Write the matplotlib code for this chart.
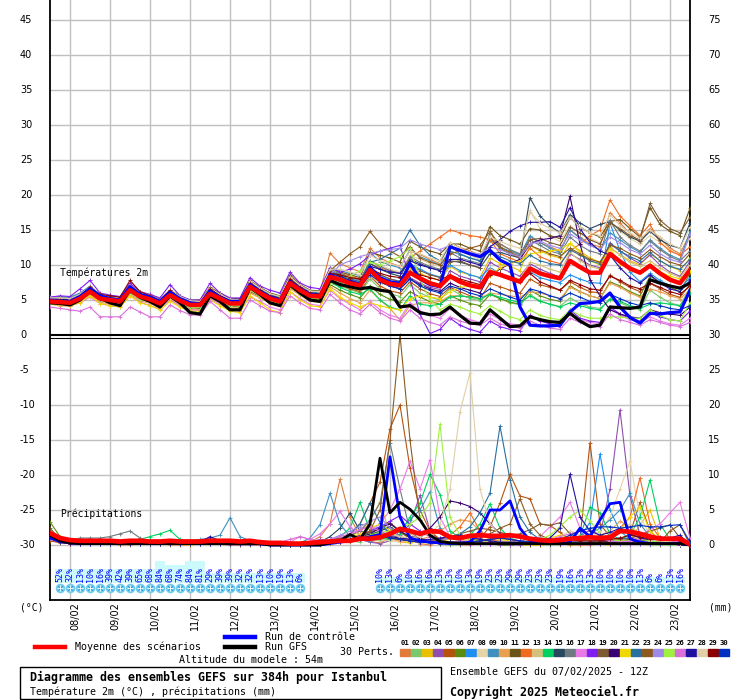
import numpy as np
import matplotlib.pyplot as plt
from matplotlib.lines import Line2D
from matplotlib.patches import Rectangle

# échéances toutes les 6h depuis le 07/02/2025 12Z
hours = np.arange(0, 385, 6)
day_labels = ['08/02', '09/02', '10/02', '11/02', '12/02', '13/02', '14/02', '15/02',
              '16/02', '17/02', '18/02', '19/02', '20/02', '21/02', '22/02', '23/02']
day_hours = np.arange(12, 384, 24)
left_ticks = [45, 40, 35, 30, 25, 20, 15, 10, 5, 0, -5, -10, -15, -20, -25, -30]
right_ticks = [75, 70, 65, 60, 55, 50, 45, 40, 35, 30, 25, 20, 15, 10, 5, 0]

pert_colors = ['#e07b39', '#7dc76d', '#e8c000', '#8e4fb0', '#b5520e', '#5b8c0f', '#1e8ff0',
               '#e6d3a8', '#3f8fbf', '#e8a050', '#6b5418', '#f06a20', '#d4c07a', '#00d060',
               '#284860', '#6e7a80', '#e87ae8', '#7f20f0', '#7d5a30', '#380070', '#f0d800',
               '#2870a0', '#8c5a1e', '#9f8ae8', '#a0f040', '#d870d8', '#2010a0', '#e0cfa8',
               '#8b0000', '#0030c0']

# --- températures 2m ---
mean_t = [4.8, 4.7, 4.6, 5.2, 6.2, 5.2, 5.0, 4.8, 6.4, 5.5, 5.1, 4.5, 5.7, 4.9, 4.3, 4.3, 5.9,
          5.2, 4.5, 4.5, 6.9, 6.0, 5.2, 4.8, 7.4, 6.4, 5.6, 5.5, 8.3, 7.9, 7.4, 7.1, 9.3,
          7.9, 7.3, 7.1, 8.9, 8.1, 7.4, 7.0, 8.4, 7.6, 7.1, 6.8, 9.0, 8.6, 8.1, 7.6, 9.5,
          8.8, 8.4, 8.1, 10.6, 9.7, 8.9, 8.9, 11.6, 10.5, 9.5, 8.9, 9.9, 8.8, 7.9, 7.4, 9.3]
gfs_t = [4.6, 4.5, 4.3, 5.0, 6.3, 5.3, 4.6, 4.2, 6.5, 5.4, 4.8, 4.0, 5.6, 4.6, 3.2, 3.0, 5.6,
         4.8, 3.6, 3.6, 6.8, 5.8, 4.6, 4.2, 7.2, 6.0, 5.0, 4.8, 7.8, 7.2, 6.9, 6.6, 6.8,
         6.4, 6.2, 4.0, 4.2, 3.2, 2.9, 3.0, 4.0, 2.8, 1.7, 1.6, 3.6, 2.4, 1.2, 1.3, 2.6,
         2.2, 1.9, 1.8, 3.1, 2.0, 1.2, 1.4, 4.0, 3.9, 3.8, 4.0, 7.9, 7.4, 7.0, 6.7, 7.4]
ctrl_t = [5.0, 4.8, 4.8, 5.5, 6.6, 5.6, 5.2, 5.0, 6.9, 5.8, 5.4, 4.8, 6.1, 5.2, 4.6, 4.4, 6.3,
          5.4, 4.8, 4.8, 7.2, 6.2, 5.4, 5.0, 7.6, 6.6, 5.8, 5.6, 8.6, 7.8, 7.6, 7.2, 9.6,
          8.2, 7.6, 7.4, 10.2, 8.0, 7.2, 6.9, 12.6, 12.1, 11.6, 11.2, 12.1, 10.7, 10.0, 4.0, 1.4,
          1.3, 1.3, 1.4, 3.3, 4.5, 4.6, 4.8, 6.0, 4.0, 2.5, 1.7, 3.1, 3.0, 3.2, 3.3, 6.4]

t_p01 = [5.0, 5.0, 4.9, 5.6, 6.8, 5.6, 5.3, 5.1, 6.9, 5.9, 5.4, 4.9, 6.1, 5.3, 4.7, 4.6, 6.4,
         5.7, 5.0, 4.9, 7.6, 6.8, 5.8, 5.3, 8.2, 7.2, 6.3, 6.1, 11.7, 10.2, 9.6, 9.0, 12.4,
         11.0, 10.3, 9.8, 12.0, 11.5, 10.8, 10.2, 13.2, 12.5, 12.0, 11.4, 13.8, 13.0, 12.2, 11.5, 14.0,
         13.2, 12.6, 12.0, 15.0, 14.0, 13.0, 12.6, 17.5, 16.0, 14.5, 13.2, 15.2, 13.8, 12.4, 11.6, 14.5]
t_p02 = [5.2, 5.3, 5.4, 5.9, 6.5, 5.5, 5.2, 4.9, 6.2, 5.4, 5.0, 4.4, 5.8, 4.8, 4.2, 4.0, 5.6,
         4.9, 4.1, 4.0, 6.4, 5.6, 4.8, 4.3, 7.0, 6.0, 5.1, 5.0, 7.4, 7.0, 6.5, 6.0, 8.0,
         6.6, 5.9, 5.5, 7.2, 6.0, 5.4, 5.0, 6.6, 5.8, 5.2, 4.9, 6.0, 5.2, 4.6, 4.3, 5.8,
         4.9, 4.4, 4.1, 5.3, 4.5, 4.0, 3.8, 5.0, 4.6, 4.0, 3.6, 6.4, 5.4, 4.6, 4.2, 6.8]
t_p03 = [4.6, 4.5, 4.4, 5.0, 5.9, 5.0, 4.7, 4.5, 6.1, 5.2, 4.8, 4.2, 5.4, 4.6, 4.0, 3.9, 5.6,
         4.9, 4.2, 4.1, 6.5, 5.7, 4.9, 4.4, 7.1, 6.1, 5.3, 5.2, 8.0, 7.4, 6.8, 6.4, 9.6,
         8.2, 7.6, 7.2, 9.4, 8.8, 8.2, 7.8, 9.8, 9.0, 8.6, 8.2, 11.0, 10.2, 9.8, 9.2, 12.8,
         12.0, 11.4, 11.0, 13.1, 12.0, 11.0, 10.4, 12.4, 11.5, 10.6, 10.0, 11.6, 10.6, 9.8, 9.2, 11.0]
t_p04 = [4.7, 4.6, 4.5, 5.3, 6.4, 5.4, 5.2, 4.9, 6.6, 5.7, 5.2, 4.6, 5.9, 5.0, 4.4, 4.4, 6.1,
         5.3, 4.6, 4.6, 7.0, 6.1, 5.3, 4.9, 7.6, 6.5, 5.7, 5.6, 8.6, 8.2, 7.6, 7.2, 9.0,
         8.0, 7.3, 7.0, 8.2, 7.4, 6.8, 6.5, 9.2, 8.4, 8.0, 7.6, 10.4, 9.6, 9.0, 8.4, 10.2,
         9.4, 8.8, 8.3, 11.6, 10.8, 10.0, 9.6, 13.2, 12.0, 11.0, 10.2, 11.4, 10.0, 9.0, 8.4, 10.5]
t_p05 = [4.9, 4.8, 4.7, 5.2, 6.0, 5.1, 4.8, 4.6, 6.2, 5.3, 4.9, 4.3, 5.5, 4.7, 4.1, 4.0, 5.6,
         5.0, 4.3, 4.2, 6.6, 5.8, 5.0, 4.6, 7.0, 6.1, 5.2, 5.1, 7.8, 7.2, 6.6, 6.2, 8.4,
         7.0, 6.3, 6.0, 7.6, 6.6, 5.9, 5.5, 6.8, 6.2, 5.6, 5.2, 7.4, 6.9, 6.4, 6.0, 8.0,
         7.2, 6.8, 6.4, 7.6, 6.8, 6.2, 6.0, 8.6, 7.6, 6.8, 6.2, 7.4, 6.6, 5.8, 5.4, 7.2]
t_p06 = [4.5, 4.4, 4.3, 4.8, 5.8, 4.9, 4.6, 4.4, 6.0, 5.1, 4.7, 4.1, 5.3, 4.5, 3.9, 3.8, 5.4,
         4.8, 4.1, 4.0, 6.2, 5.5, 4.7, 4.3, 6.8, 5.9, 5.0, 4.9, 7.2, 6.4, 5.8, 5.3, 7.0,
         5.8, 5.1, 4.7, 6.2, 5.4, 4.8, 4.4, 5.6, 5.0, 4.5, 4.2, 5.8, 5.2, 4.7, 4.4, 6.4,
         5.6, 5.1, 4.8, 7.0, 6.2, 5.6, 5.2, 7.6, 7.0, 6.2, 5.6, 8.4, 7.6, 6.8, 6.2, 8.8]
t_p07 = [5.1, 5.0, 4.9, 5.5, 6.5, 5.5, 5.2, 5.0, 6.7, 5.8, 5.3, 4.7, 6.0, 5.1, 4.5, 4.5, 6.2,
         5.5, 4.7, 4.7, 7.2, 6.3, 5.5, 5.0, 7.8, 6.8, 5.9, 5.8, 8.8, 8.4, 7.8, 7.4, 9.8,
         8.6, 8.0, 7.7, 10.2, 9.4, 8.7, 8.3, 10.0, 9.2, 8.6, 8.2, 9.6, 8.8, 8.2, 7.8, 9.0,
         8.2, 7.8, 7.5, 8.6, 8.0, 7.5, 7.4, 16.0, 12.0, 9.0, 7.6, 8.8, 7.8, 7.0, 6.6, 8.2]
t_p08 = [5.0, 5.1, 5.0, 5.6, 6.6, 5.6, 5.4, 5.2, 6.8, 5.9, 5.5, 4.9, 6.2, 5.3, 4.7, 4.7, 6.5,
         5.7, 5.0, 5.0, 7.6, 6.6, 5.8, 5.4, 8.4, 7.0, 6.2, 6.1, 9.2, 9.0, 8.4, 8.0, 10.6,
         10.0, 9.4, 9.0, 11.4, 10.8, 10.2, 9.8, 12.6, 12.0, 11.4, 10.8, 13.4, 12.8, 12.2, 11.6, 17.8,
         15.2, 14.0, 13.4, 15.6, 14.6, 13.8, 13.2, 15.8, 14.8, 13.8, 13.0, 14.2, 13.2, 12.2, 11.4, 13.8]
t_p09 = [5.4, 5.5, 5.4, 6.0, 7.0, 5.8, 5.5, 5.2, 6.9, 6.0, 5.6, 5.0, 6.3, 5.4, 4.8, 4.8, 6.6,
         5.8, 5.1, 5.1, 7.5, 6.6, 5.8, 5.4, 8.0, 7.0, 6.2, 6.0, 9.6, 9.2, 8.8, 8.5, 11.8,
         10.5, 10.0, 9.6, 12.2, 11.2, 10.6, 10.0, 12.0, 11.5, 11.0, 10.6, 13.6, 12.5, 12.0, 11.4, 14.2,
         13.2, 12.4, 11.8, 15.0, 13.8, 12.8, 12.2, 14.6, 13.6, 12.6, 11.8, 13.6, 12.4, 11.4, 10.8, 14.8]
t_p10 = [4.4, 4.2, 4.1, 4.7, 5.7, 4.7, 4.4, 4.2, 5.8, 4.9, 4.5, 3.9, 5.1, 4.3, 3.7, 3.6, 5.2,
         4.6, 3.9, 3.8, 6.0, 5.3, 4.5, 4.1, 6.6, 5.7, 4.8, 4.7, 6.9, 6.0, 5.2, 4.6, 6.4,
         5.0, 3.8, 2.1, 4.2, 4.6, 4.6, 4.8, 5.6, 5.6, 5.4, 5.2, 6.0, 5.8, 5.6, 5.4, 6.2,
         6.0, 5.6, 5.2, 6.8, 6.2, 5.6, 5.2, 7.4, 6.8, 6.0, 5.4, 6.6, 6.2, 5.6, 5.2, 6.4]
t_p11 = [5.2, 5.2, 5.1, 5.7, 6.8, 5.8, 5.6, 5.4, 7.0, 6.1, 5.7, 5.1, 6.4, 5.6, 5.0, 5.0, 6.8,
         6.0, 5.2, 5.2, 7.8, 6.8, 6.0, 5.6, 8.6, 7.2, 6.4, 6.3, 9.4, 9.0, 8.6, 8.2, 11.8,
         11.4, 11.0, 10.4, 13.4, 12.6, 12.0, 11.6, 13.0, 13.0, 12.4, 12.0, 15.5, 14.2, 13.6, 13.0, 15.2,
         15.0, 14.2, 13.8, 16.8, 15.4, 14.6, 14.0, 16.2, 16.5, 15.2, 14.0, 18.2, 15.8, 14.8, 14.2, 18.1]
t_p12 = [4.9, 4.9, 4.8, 5.4, 6.4, 5.4, 5.1, 4.9, 6.6, 5.7, 5.2, 4.6, 5.9, 5.1, 4.5, 4.4, 6.1,
         5.4, 4.7, 4.6, 7.1, 6.2, 5.4, 5.0, 7.7, 6.6, 5.8, 5.6, 8.8, 8.8, 8.4, 8.0, 10.2,
         9.6, 9.2, 8.8, 11.0, 12.0, 13.0, 14.0, 15.0, 14.6, 14.2, 14.0, 13.6, 11.6, 11.0, 10.4, 12.4,
         11.2, 10.6, 10.2, 12.0, 13.0, 14.2, 15.0, 19.3, 17.0, 15.6, 14.2, 15.8, 13.2, 12.0, 11.4, 12.6]
t_p13 = [4.6, 4.5, 4.4, 5.0, 5.9, 4.9, 4.7, 4.5, 6.0, 5.2, 4.8, 4.2, 5.4, 4.6, 4.0, 4.0, 5.6,
         4.9, 4.2, 4.2, 6.4, 5.6, 4.9, 4.5, 7.0, 6.0, 5.3, 5.2, 8.2, 7.4, 7.0, 6.6, 8.4,
         7.4, 7.0, 6.7, 8.8, 8.0, 7.4, 7.0, 8.2, 7.6, 7.2, 6.8, 9.4, 8.8, 8.4, 8.0, 10.4,
         10.0, 9.4, 9.0, 11.8, 10.6, 9.8, 9.4, 12.6, 11.4, 10.4, 9.8, 10.6, 9.6, 8.8, 8.2, 10.0]
t_p14 = [4.8, 4.9, 5.1, 5.8, 6.6, 5.3, 5.0, 4.8, 6.3, 5.4, 5.0, 4.4, 5.6, 4.8, 4.2, 4.2, 5.8,
         5.1, 4.4, 4.4, 6.8, 5.9, 5.1, 4.7, 7.3, 6.2, 5.4, 5.3, 7.6, 6.8, 6.2, 5.8, 6.6,
         5.0, 4.0, 3.6, 5.6, 4.4, 4.2, 4.4, 5.4, 5.6, 5.4, 5.2, 5.8, 5.4, 5.0, 4.6, 5.6,
         4.8, 4.4, 4.0, 4.6, 4.2, 3.8, 3.6, 5.2, 4.8, 4.2, 3.8, 4.4, 4.6, 4.4, 4.2, 6.0]
t_p15 = [5.0, 5.0, 4.9, 5.5, 6.5, 5.5, 5.2, 5.0, 6.7, 5.8, 5.3, 4.7, 6.0, 5.1, 4.5, 4.5, 6.2,
         5.5, 4.8, 4.7, 7.3, 6.3, 5.5, 5.1, 7.9, 6.8, 6.0, 5.8, 9.0, 8.6, 8.0, 7.6, 10.2,
         9.4, 8.8, 8.4, 10.8, 10.2, 9.6, 9.2, 10.6, 10.4, 10.0, 9.6, 11.6, 11.8, 11.4, 11.0, 19.6,
         17.0, 15.6, 14.6, 17.2, 16.0, 15.2, 15.8, 16.2, 15.0, 14.0, 13.4, 14.8, 13.6, 12.8, 12.4, 16.0]
t_p16 = [5.3, 5.3, 5.2, 5.8, 6.9, 5.7, 5.5, 5.3, 7.1, 6.0, 5.6, 5.0, 6.3, 5.4, 4.8, 4.8, 6.6,
         5.7, 5.0, 5.0, 7.4, 6.5, 5.7, 5.3, 8.1, 6.9, 6.0, 5.9, 9.2, 8.8, 8.2, 7.8, 10.6,
         9.8, 9.2, 8.8, 11.2, 10.4, 9.8, 9.4, 11.8, 11.0, 10.6, 10.2, 14.6, 13.0, 12.2, 11.6, 13.6,
         12.8, 12.0, 11.6, 14.0, 12.8, 12.0, 11.6, 16.4, 14.0, 12.8, 12.0, 13.4, 12.2, 11.2, 10.6, 12.0]
t_p17 = [4.6, 4.4, 4.2, 4.6, 5.4, 4.5, 4.2, 4.0, 5.6, 4.7, 4.2, 3.7, 5.0, 4.2, 3.6, 3.5, 5.2,
         4.4, 3.6, 3.4, 5.4, 4.8, 4.0, 3.6, 6.2, 5.2, 4.4, 4.2, 6.4, 5.2, 4.4, 3.6, 4.8,
         3.6, 2.8, 2.4, 4.6, 3.4, 2.8, 2.4, 3.8, 2.8, 2.2, 1.8, 3.0, 2.2, 1.6, 1.4, 2.8,
         2.0, 1.6, 1.4, 3.2, 2.2, 1.8, 1.6, 3.8, 2.8, 2.2, 1.8, 2.6, 2.0, 1.6, 1.4, 2.4]
t_p18 = [5.4, 5.6, 5.5, 6.6, 7.8, 6.0, 5.7, 5.5, 7.4, 6.2, 5.8, 5.3, 7.2, 5.6, 5.0, 5.0, 7.4,
         6.0, 5.3, 5.3, 8.2, 7.0, 6.4, 6.0, 9.0, 7.4, 6.8, 6.6, 9.6, 9.0, 9.4, 10.2, 11.4,
         12.0, 12.4, 12.8, 8.0, 3.0, 0.2, 0.8, 2.4, 1.4, 0.8, 0.4, 2.0, 1.2, 0.8, 0.6, 2.8,
         2.0, 1.6, 1.2, 3.6, 2.4, 2.0, 1.8, 4.0, 3.0, 2.4, 2.0, 3.2, 2.6, 2.2, 2.0, 3.4]
t_p19 = [4.8, 4.7, 4.6, 5.3, 6.3, 5.3, 5.0, 4.8, 6.5, 5.6, 5.1, 4.5, 5.8, 5.0, 4.4, 4.3, 6.0,
         5.3, 4.6, 4.5, 7.0, 6.1, 5.3, 4.9, 7.5, 6.5, 5.7, 5.6, 8.6, 8.2, 7.6, 7.2, 9.6,
         8.6, 8.0, 7.6, 10.0, 9.2, 8.6, 8.2, 10.4, 10.6, 10.0, 9.6, 14.0, 12.4, 11.6, 11.0, 13.6,
         13.8, 13.2, 12.8, 15.4, 14.6, 13.6, 13.0, 16.0, 15.2, 14.2, 13.6, 18.8, 16.4, 15.2, 14.6, 16.8]
t_p20 = [4.9, 4.8, 4.7, 5.4, 6.4, 5.4, 5.1, 4.9, 6.6, 5.6, 5.1, 4.5, 5.8, 5.0, 4.4, 4.4, 6.1,
         5.4, 4.6, 4.6, 7.2, 6.2, 5.4, 5.0, 7.6, 6.6, 5.8, 5.6, 8.4, 8.0, 7.4, 7.0, 9.0,
         7.6, 7.0, 6.6, 8.0, 7.2, 6.6, 6.2, 7.4, 6.8, 6.4, 6.0, 8.6, 9.4, 10.2, 10.8, 13.0,
         13.6, 13.8, 14.2, 19.8, 13.0, 7.9, 5.6, 3.6, 3.0, 2.6, 2.4, 3.6, 3.2, 3.0, 2.8, 4.0]
t_p21 = [4.4, 4.3, 4.2, 4.6, 5.6, 4.5, 4.2, 4.0, 5.6, 4.6, 4.2, 3.6, 4.8, 4.0, 3.4, 3.4, 5.0,
         4.2, 3.4, 3.2, 5.6, 4.6, 3.6, 3.2, 6.2, 5.0, 4.2, 4.0, 6.6, 5.4, 4.6, 4.0, 4.6,
         4.2, 3.8, 3.6, 5.2, 5.6, 5.4, 5.2, 6.2, 6.8, 7.0, 7.2, 8.4, 9.6, 10.2, 10.6, 11.6,
         11.8, 12.0, 12.2, 13.1, 11.8, 10.6, 10.0, 12.4, 10.2, 9.4, 9.0, 10.2, 9.0, 8.4, 8.0, 9.2]
t_p22 = [5.2, 5.2, 5.1, 5.7, 6.7, 5.7, 5.4, 5.2, 6.9, 6.0, 5.5, 4.9, 6.2, 5.3, 4.7, 4.7, 6.4,
         5.7, 5.0, 4.9, 7.4, 6.5, 5.7, 5.3, 8.0, 6.9, 6.1, 5.9, 9.0, 8.6, 8.0, 7.6, 10.4,
         10.8, 11.6, 12.4, 15.0, 12.8, 11.4, 10.6, 12.8, 11.6, 11.0, 10.6, 12.0, 11.2, 10.6, 10.2, 11.4,
         10.6, 10.2, 10.0, 12.2, 11.4, 10.6, 10.2, 13.0, 12.0, 11.2, 10.6, 11.8, 10.6, 9.8, 9.4, 10.8]
t_p23 = [5.1, 5.1, 5.0, 5.6, 6.6, 5.6, 5.3, 5.1, 6.8, 5.9, 5.4, 4.8, 6.1, 5.2, 4.6, 4.6, 6.3,
         5.6, 4.9, 4.8, 7.3, 6.4, 5.6, 5.2, 7.8, 6.8, 6.0, 5.8, 9.2, 10.4, 11.6, 12.6, 14.8,
         13.0, 12.0, 11.2, 12.6, 11.0, 10.4, 10.0, 11.6, 12.0, 12.4, 12.8, 14.8, 12.6, 11.8, 11.2, 12.8,
         12.2, 11.6, 11.2, 12.4, 11.6, 10.8, 10.4, 12.8, 12.4, 11.6, 11.0, 12.2, 11.2, 10.4, 10.0, 11.6]
t_p24 = [4.6, 4.6, 4.5, 5.1, 6.1, 5.1, 4.8, 4.6, 6.2, 5.4, 4.9, 4.3, 5.6, 4.8, 4.2, 4.1, 5.8,
         5.1, 4.4, 4.4, 6.8, 5.9, 5.1, 4.7, 7.3, 6.3, 5.5, 5.4, 8.6, 10.0, 10.6, 11.2, 11.6,
         12.0, 12.2, 12.4, 13.6, 13.0, 12.6, 12.2, 12.8, 12.0, 11.8, 11.6, 12.6, 12.2, 11.6, 11.2, 13.0,
         13.4, 12.8, 12.4, 14.4, 13.6, 12.8, 12.2, 14.0, 13.2, 12.2, 11.6, 12.8, 11.6, 10.8, 10.4, 14.4]
t_p25 = [4.7, 4.7, 4.8, 5.4, 6.2, 5.0, 4.8, 4.6, 6.0, 5.2, 4.8, 4.2, 5.6, 4.6, 4.0, 4.0, 5.6,
         4.9, 4.2, 4.2, 6.6, 5.7, 4.9, 4.5, 7.0, 6.0, 5.2, 5.1, 7.4, 7.6, 8.4, 9.2, 10.4,
         10.0, 10.6, 11.2, 12.4, 8.0, 5.0, 3.6, 4.4, 4.0, 3.4, 3.0, 4.2, 3.4, 2.6, 2.2, 3.6,
         2.8, 2.4, 2.2, 3.6, 2.8, 2.4, 2.4, 2.6, 2.6, 2.4, 2.4, 3.6, 2.8, 2.2, 2.0, 4.6]
t_p26 = [4.0, 3.8, 3.6, 3.4, 4.0, 2.6, 2.6, 2.6, 4.0, 3.3, 2.6, 2.6, 4.3, 3.5, 2.9, 2.8, 4.8,
         3.6, 2.4, 2.4, 5.0, 4.2, 3.4, 3.2, 5.6, 4.6, 3.8, 3.6, 5.8, 4.6, 3.6, 3.0, 4.4,
         3.2, 2.4, 2.0, 3.6, 2.4, 1.8, 1.4, 2.6, 2.0, 1.6, 1.4, 2.4, 1.6, 1.2, 1.0, 2.0,
         1.4, 1.0, 0.8, 2.4, 1.8, 1.4, 1.2, 3.0, 2.2, 1.8, 1.4, 2.2, 1.8, 1.4, 1.2, 1.8]
t_p27 = [5.1, 5.1, 5.0, 5.6, 6.6, 5.6, 5.3, 5.1, 6.8, 5.9, 5.4, 4.8, 6.1, 5.2, 4.6, 4.6, 6.3,
         5.6, 4.9, 4.8, 7.3, 6.4, 5.6, 5.2, 7.8, 6.8, 6.0, 5.8, 8.8, 8.4, 7.8, 7.4, 9.8,
         9.4, 9.0, 8.8, 10.6, 10.0, 9.6, 9.2, 10.8, 10.8, 10.4, 10.0, 12.6, 13.6, 14.8, 15.6, 16.1,
         16.1, 16.2, 15.4, 18.2, 15.2, 13.2, 12.0, 11.4, 9.6, 8.2, 7.4, 8.6, 7.4, 6.6, 6.2, 7.8]
t_p28 = [5.3, 5.3, 5.2, 5.8, 6.8, 5.8, 5.5, 5.3, 7.0, 6.1, 5.6, 5.0, 6.4, 5.5, 4.9, 4.8, 6.7,
         5.8, 5.1, 5.0, 7.7, 6.7, 5.9, 5.5, 8.3, 7.1, 6.3, 6.2, 9.4, 9.4, 9.0, 8.6, 11.4,
         10.6, 10.2, 9.8, 12.0, 11.6, 11.0, 10.6, 13.2, 12.4, 11.8, 11.4, 14.0, 13.4, 12.8, 12.4, 17.6,
         16.0, 15.2, 14.6, 16.8, 15.4, 14.6, 14.2, 17.2, 15.6, 14.6, 13.8, 15.0, 14.0, 13.0, 12.4, 15.4]
t_p29 = [5.0, 5.0, 4.9, 5.6, 6.8, 5.8, 5.6, 5.4, 7.8, 6.2, 5.6, 4.9, 6.4, 5.2, 4.6, 4.5, 6.6,
         5.6, 4.9, 4.8, 7.4, 6.4, 5.6, 5.2, 8.0, 6.8, 6.0, 5.8, 8.8, 8.6, 8.2, 8.0, 9.4,
         8.8, 8.4, 8.2, 9.0, 8.6, 8.2, 7.8, 8.6, 8.0, 7.6, 7.2, 8.6, 8.8, 8.2, 7.6, 8.8,
         7.6, 7.0, 6.4, 7.8, 7.2, 6.6, 6.4, 8.4, 7.8, 7.0, 6.6, 7.4, 6.8, 6.2, 5.8, 7.0]
t_p30 = [4.8, 4.8, 4.7, 5.3, 6.2, 5.2, 5.0, 4.8, 6.3, 5.5, 5.0, 4.4, 5.7, 4.9, 4.3, 4.3, 5.9,
         5.2, 4.5, 4.4, 6.9, 6.0, 5.2, 4.8, 7.4, 6.4, 5.5, 5.4, 8.2, 7.8, 7.2, 6.8, 8.6,
         7.6, 7.0, 6.6, 8.0, 7.0, 6.4, 6.0, 7.0, 6.6, 6.0, 5.6, 6.6, 6.0, 5.4, 5.0, 6.6,
         6.2, 5.6, 5.2, 6.0, 5.4, 4.8, 4.6, 5.8, 5.2, 4.6, 4.2, 4.6, 4.2, 3.8, 3.6, 4.2]

# --- précipitations (mm / 6h) ---
mean_p = [1.7, 1.0, .7, .6, .6, .6, .6, .5, .6, .6, .5, .5, .6, .5, .5, .5, .6,
          .6, .6, .5, .6, .4, .3, .3, .2, .2, .3, .4, .5, .6, .6, .9, .9,
          1.1, 1.6, 2.3, 2.0, 1.6, 2.0, 1.9, 1.1, 1.0, 1.3, 1.4, 1.3, 1.3, 1.4, 1.2, .9,
          .7, .6, .7, .9, 1.0, 1.1, 1.0, 1.1, 2.0, 1.9, 1.6, 1.2, .9, .9, .9, .1]
gfs_p = [1.4, .6, .3, .2, .2, .2, .2, .2, .2, .2, .2, .2, .2, .2, .2, .2, .2,
         .2, .2, .2, .2, .2, 0, 0, 0, 0, 0, 0, .3, .6, 1.5, .8, 3.0,
         12.4, 4.6, 6.1, 5.1, 3.6, 1.4, .5, .3, .2, .2, .2, .2, .2, .2, .2, .2,
         .2, .2, .2, .2, .2, .2, .2, .2, .2, .2, .2, .2, .2, .2, .2, 0]
ctrl_p = [1.0, .5, .3, .2, .2, .2, .2, .2, .2, .2, .2, .2, .2, .2, .2, .2, .2,
          .2, .2, .2, .2, .2, 0, 0, 0, 0, 0, 0, .2, .4, .6, .8, 1.2,
          1.5, 12.6, 4.0, 1.0, .6, .4, .3, .2, .2, .4, 2.0, 5.0, 5.0, 6.3, 2.4, .6,
          .3, .2, .2, .4, 2.4, 1.2, 3.6, 5.9, 6.1, .9, .4, .2, .2, .2, .2, 0]

p_p01 = [1.5, .6, .3, .2, .2, .3, .2, 0, 0, .2, .3, .2, 0, 0, 0, .2, .3,
         .2, 0, 0, .2, 0, 0, 0, 0, 0, .4, 1.2, 3.0, 9.4, 4.0, 1.2, .5,
         .3, 1.0, 2.0, .8, .2, 0, .5, .3, 0, 0, .4, 1.0, .5, .2, 0, 0,
         0, .3, .2, 0, 0, 0, .4, .6, .3, .5, 1.2, .4, 0, .2, .2, 0]
p_p02 = [1.2, .5, .3, .3, .2, .2, .2, .3, .2, .3, .4, .3, .5, .3, .2, .2, .3,
         .2, .2, .1, .2, 0, 0, 0, 0, 0, 0, .2, .5, .8, .6, .4, 1.5,
         2.0, 1.0, .6, .4, .8, .4, .2, 0, 0, .2, .4, .6, .3, 0, 0, 0,
         0, 0, 0, .3, .5, .3, .2, .2, .6, .4, .2, 0, 0, 0, 0, 0]
p_p03 = [.8, .4, .2, .2, .1, .2, .2, .1, .2, .2, .2, .2, .2, .1, 0, .2, .2,
         .1, 0, 0, 0, 0, 0, 0, 0, 0, 0, 0, .3, .6, 1.2, 2.0, 3.5,
         6.1, 1.5, .4, .3, .6, .5, .2, .2, .4, 1.5, .8, .6, .4, .2, 0, 0,
         0, .2, .4, 1.0, .3, .2, .1, 0, .3, .8, 2.8, 5.0, 1.0, .4, .2, 0]
p_p04 = [1.0, .5, .3, .2, .2, .3, .2, .2, .2, .2, .2, .3, .2, .2, .2, .1, .1,
         .1, 0, 0, 0, 0, 0, 0, 0, .2, .4, .8, .6, .4, 1.0, .8, .4,
         .2, .6, 1.5, 3.0, 7.1, 2.0, .6, .3, .2, .2, .2, .2, 0, 0, 0, .2,
         .4, .3, .6, .8, 1.2, 2.2, 1.4, 8.0, 19.3, 7.0, 1.4, .6, .4, .2, 0, 0]
p_p05 = [.6, .3, .2, .2, .2, .2, .2, .3, .2, .2, .2, .2, .2, .2, .2, .2, .2,
         .2, .3, .2, .2, .2, .2, .2, .2, .2, .2, .3, .4, .8, 1.5, 3.0, 6.0,
         9.0, 16.6, 20.0, 11.0, 5.0, 2.0, .8, .4, .3, .5, 1.0, 2.6, 6.0, 10.1, 7.0, 6.6,
         3.0, 2.8, 1.8, .8, 1.0, 14.6, 3.0, 1.2, .8, 1.6, 6.1, 2.0, .6, .3, .2, 0]
p_p06 = [3.3, 1.2, .5, .3, .3, .3, .2, .2, .2, .2, .2, .2, .2, .2, .2, .2, .2,
         .2, .2, .2, .2, .2, .2, 0, 0, 0, 0, .2, .4, .6, .8, 1.0, 1.4,
         2.0, 2.6, 1.8, 1.0, .6, .4, .2, .2, .2, .2, .2, .2, 0, 0, .2, .4,
         .6, .8, .4, .2, .2, .2, .2, .2, .4, .6, .8, .4, .2, .2, 0, 0]
p_p07 = [1.4, .5, .3, .2, .2, .2, .2, .2, .2, .2, .2, .3, .3, .2, .2, .2, .2,
         .2, .2, .2, .3, .2, 0, 0, 0, 0, 0, .2, .4, .6, .8, 1.2, 2.0,
         2.6, 1.8, 1.2, .6, .4, .4, .3, .2, .2, .2, .3, .4, .6, .4, .2, .2,
         .2, .4, .6, .8, 1.2, 3.2, 13.0, 5.0, 2.0, .8, .4, .3, .2, .2, 0, 0]
p_p08 = [1.0, .4, .2, .2, .2, .2, .2, .2, .2, .2, .2, .2, .2, .2, .2, .2, .2,
         .2, .2, .2, .2, .2, 0, 0, 0, 0, 0, .3, .5, .8, 1.0, 1.4, 1.0,
         .8, .6, .4, .6, .8, .4, .3, .2, .2, .2, .2, .4, .6, .4, .2, .2,
         .4, .8, 1.2, 2.0, 1.4, 1.0, 2.0, 4.0, 8.0, 12.0, 4.0, 1.5, .6, .3, .2, 0]
p_p09 = [1.6, .6, .3, .2, .2, .2, .3, .4, .5, .4, .3, .2, .3, .5, .6, .8, 1.0,
         1.4, 3.9, 1.2, .6, .6, .3, .2, .2, .3, 1.0, 2.9, 7.4, 3.0, 1.2, .8, .6,
         .8, 1.4, 2.2, 3.6, 5.0, 7.6, 2.4, 1.0, .6, .4, .3, .2, .2, .2, .2, .2,
         .3, .4, .6, .8, 1.0, 1.6, 2.4, 3.6, 5.0, 7.4, 3.0, 1.2, .6, .3, .2, 0]
p_p10 = [1.2, .5, .3, .2, .2, .2, .2, .2, .2, .2, .2, .2, .2, .2, .2, .2, .2,
         .2, .2, .2, .2, .2, 0, 0, 0, 0, 0, .2, .4, .8, 1.4, 2.0, 3.0,
         1.6, .8, .6, .6, .8, 1.2, 2.0, 3.0, 3.6, 3.4, 2.0, 1.0, .6, .4, .2, .2,
         .2, .2, .4, .6, .8, 1.0, 1.4, 2.0, 3.4, 2.6, 1.4, .6, .4, .2, .2, 0]
p_p11 = [2.4, .8, .4, .3, .2, .2, .2, .2, .2, .2, .2, .2, .2, .2, .2, .2, .2,
         .2, .2, .2, .2, .2, .2, 0, 0, 0, 0, .2, .3, .5, .8, 1.2, 1.8,
         2.4, 3.2, 2.0, 1.0, .6, .4, .3, .2, .2, .2, .2, .2, .2, .2, .2, .2,
         .2, .2, .2, .4, .6, .8, .6, .4, .4, .6, .8, .6, .4, .2, .2, 0]
p_p12 = [1.0, .4, .2, .2, .2, .2, .2, .2, .2, .2, .2, .2, .2, .2, .2, .2, .2,
         .2, .2, .2, .2, .2, 0, 0, 0, 0, 0, .2, .4, .6, .8, 1.0, 1.2,
         1.4, 1.8, 1.2, .8, .6, .6, .8, 1.4, 2.6, 4.6, 2.0, .8, .4, .2, .2, .2,
         .2, .2, .2, .4, .8, 1.2, 1.0, 1.4, 2.4, 4.0, 9.6, 3.0, 1.0, .4, .2, 0]
p_p13 = [1.3, .5, .3, .2, .2, .2, .2, .2, .2, .2, .2, .2, .2, .2, .2, .2, .2,
         .2, .2, .2, .2, .2, 0, 0, 0, 0, .2, .4, .6, 1.0, 1.4, 1.0, .8,
         .6, 1.2, 2.4, 1.6, .8, .6, .4, .4, .6, .8, .6, .4, .2, .2, .2, .2,
         .2, .2, .2, .4, .6, .4, .4, .6, 1.0, .8, .4, .2, .2, .2, 0, 0]
p_p14 = [1.4, .5, .3, .2, .2, .2, .3, .4, .6, .8, 1.2, 1.6, 2.1, .8, .4, .3, .2,
         .2, .2, .2, .2, .2, 0, 0, 0, 0, 0, .2, .6, 1.2, 2.4, 6.1, 2.0,
         1.0, .8, 1.6, 4.0, 6.0, 10.1, 7.2, 2.0, 1.0, 1.4, 3.0, 5.9, 2.4, 1.0, .4, .2,
         .2, .2, .4, .8, 1.2, 5.4, 4.6, 1.6, .8, 1.4, 4.0, 9.3, 3.0, .8, .3, 0]
p_p15 = [1.2, .5, .3, .2, .2, .2, .2, .2, .2, .2, .2, .2, .2, .2, .2, .2, .3,
         .4, .3, .2, .2, .2, 0, 0, 0, 0, 0, .4, 1.2, 2.4, 4.6, 2.0, 1.4,
         2.0, 2.6, 1.2, .6, .4, .3, .2, .2, .2, .2, .2, .2, .2, .2, .2, .2,
         .2, .2, .3, .4, .6, .4, .3, .2, .4, .6, .4, .2, .2, .2, 0, 0]
p_p16 = [1.8, .8, .6, 1.0, 1.0, 1.0, 1.2, 1.6, 2.0, 1.0, .5, .3, .2, .2, .2, .2, .2,
         .2, .2, .3, .2, .2, 0, 0, 0, 0, 0, .3, .6, 1.0, 1.4, 2.0, 3.6,
         6.0, 14.6, 8.0, 2.0, .8, .4, .3, .2, .2, .2, .2, .2, .2, .2, .2, .2,
         .2, .2, .3, .4, .4, .4, .3, .2, .4, .6, .4, .3, .2, .2, 0, 0]
p_p17 = [1.0, .4, .3, .2, .2, .2, .2, .2, .2, .2, .2, .2, .2, .2, .2, .2, .2,
         .2, .2, .2, .2, .2, 0, 0, .4, 1.2, .8, 1.6, 3.0, 4.8, 2.6, 1.4, 2.0,
         3.0, 5.0, 8.0, 12.0, 8.0, 12.2, 4.0, 1.2, .6, .4, .3, .2, .2, .2, .3, .6,
         1.2, 2.6, 4.0, 6.1, 2.4, 1.0, .6, .4, .4, .8, 1.4, 2.2, 3.0, 4.6, 6.1, 1.0]
p_p18 = [1.1, .4, .2, .2, .2, .2, .2, .2, .2, .2, .2, .2, .2, .2, .2, .2, .2,
         .2, .2, .2, .2, .2, 0, 0, 0, 0, .2, .4, .6, .8, 1.0, 1.4, 2.0,
         2.6, 3.4, 4.2, 3.0, 2.0, 1.2, .6, .4, .2, .2, .2, .2, .2, .2, .2, .2,
         .2, .4, .6, .4, .3, .2, .2, .2, .2, .2, .2, .2, .2, .2, 0, 0]
p_p19 = [1.3, .5, .3, .2, .2, .2, .2, .2, .2, .2, .2, .2, .2, .2, .2, .2, .2,
         .2, .2, .2, .2, .2, 0, 0, 0, 0, 0, .2, .4, .6, .8, 1.0, 1.4,
         1.6, 1.4, 1.0, .8, .6, .6, .8, 1.2, 1.6, 2.0, 2.4, 2.2, 1.8, 1.4, 1.6, 2.2,
         3.0, 2.8, 3.2, 1.6, 1.0, .8, .6, .6, .8, 1.0, 1.4, 2.0, 2.4, 2.9, 1.0, 0]
p_p20 = [1.0, .4, .2, .2, .2, .2, .2, .2, .2, .2, .2, .2, .2, .2, .2, .2, .2,
         .2, .2, .2, .2, .2, 0, 0, 0, 0, 0, .2, .4, .6, .8, 1.0, 1.6,
         2.4, 3.0, 2.0, 1.2, 1.0, 2.4, 4.0, 6.3, 6.0, 5.5, 4.6, 3.0, 1.6, .8, .4, .2,
         .2, .2, .2, .4, .6, .8, .6, .4, .4, .4, .6, .8, 1.2, .8, .4, 0]
p_p21 = [1.1, .4, .2, .2, .2, .2, .2, .2, .2, .2, .2, .2, .2, .2, .2, .2, .2,
         .2, .2, .2, .2, .2, 0, 0, 0, 0, 0, .2, .3, .6, 1.0, 1.6, 2.4,
         3.0, 2.0, 1.0, .6, .4, .4, .6, .8, 1.2, 1.4, 1.6, 1.2, .8, .6, .4, .4,
         .6, 1.0, 1.4, 1.0, .6, .6, .8, 1.2, 2.0, 4.0, 5.4, 2.0, .8, .4, .2, 0]
p_p22 = [1.2, .5, .3, .2, .2, .2, .2, .2, .2, .2, .2, .2, .2, .2, .2, .2, .2,
         .2, .2, .2, .2, .2, 0, 0, 0, 0, 0, .2, .4, .8, 1.6, 3.0, 6.0,
         3.2, 1.6, .8, .6, .4, .4, .6, 1.0, 1.6, 2.6, 4.6, 7.4, 17.0, 9.3, 4.0, 1.8,
         .8, .6, .4, .4, .4, .4, .6, .8, 1.0, .8, .6, .4, .3, .2, .2, 0]
p_p23 = [1.4, .6, .3, .2, .2, .2, .2, .2, .2, .2, .2, .2, .2, .2, .2, .2, .2,
         .2, .2, .2, .2, .2, 0, 0, 0, 0, 0, .2, .4, .6, .8, 1.2, 2.0,
         5.0, 15.0, 30.0, 15.0, 3.6, 1.4, .6, .4, .4, .6, 1.0, 1.6, 2.4, 3.0, 6.6, 3.0,
         1.4, .8, .6, .4, .4, .4, .4, .4, .6, .8, .6, .4, .4, 2.0, 2.9, 0]
p_p24 = [1.0, .4, .2, .2, .2, .2, .2, .2, .2, .2, .2, .2, .2, .2, .2, .2, .2,
         .2, .2, .2, .2, .2, 0, 0, 0, 0, .2, .4, .8, 1.4, 2.0, 2.6, 3.4,
         4.0, 2.4, 1.2, .6, .4, .4, .6, 1.0, 1.4, 1.2, .8, .6, .4, .4, .6, .8,
         1.0, .8, .6, .4, .4, .6, .8, .6, .4, .4, .4, .6, .8, .6, .4, 0]
p_p25 = [1.2, .5, .3, .2, .2, .2, .2, .2, .2, .2, .2, .2, .2, .2, .2, .2, .2,
         .2, .2, .2, .2, .2, 0, 0, 0, 0, 0, .2, .4, .6, .8, 1.0, 1.4,
         1.8, 2.0, 2.4, 3.0, 4.0, 6.0, 17.3, 4.0, 1.4, .8, .6, .4, .4, .4, .4, .6,
         .8, 1.4, 2.6, 4.0, 5.0, 3.4, 1.6, .8, .6, .6, .8, .6, .4, .3, .2, 0]
p_p26 = [1.0, .4, .2, .2, .2, .2, .2, .2, .2, .2, .2, .2, .2, .2, .2, .2, .2,
         .2, .2, .2, .2, .2, .2, .4, .8, 1.2, .8, .6, .8, 1.2, 1.6, 2.2, 2.6,
         2.0, 1.4, .8, .6, .4, .4, .4, .4, .4, .4, .4, .4, .4, .4, .4, .4,
         .6, .8, 1.2, 1.6, 2.0, 1.4, .8, .6, .4, .6, .8, 1.0, .8, .6, .4, 0]
p_p27 = [1.3, .5, .3, .2, .2, .2, .2, .2, .2, .2, .2, .2, .2, .2, .2, .4, 1.2,
         .6, .3, .2, .2, .2, 0, 0, 0, 0, 0, .2, .4, .6, .8, 1.0, 1.2,
         1.4, 1.2, 1.0, .8, .8, .8, 1.0, 1.2, 1.4, 1.2, .8, .6, .4, .4, .4, .4,
         .6, 1.0, 2.4, 10.1, 4.0, 2.0, 1.4, 1.8, 2.4, 1.6, 1.0, .8, .8, 1.0, 1.4, 0]
p_p28 = [1.2, .5, .3, .2, .2, .2, .2, .2, .2, .2, .2, .2, .2, .2, .2, .2, .2,
         .2, .2, .2, .2, .2, 0, 0, 0, 0, 0, .2, .4, .6, .8, 1.0, 1.2,
         1.4, 1.6, 1.2, 1.0, 1.2, 1.6, 3.0, 8.0, 19.0, 24.6, 8.0, 3.0, 1.4, .8, .6, .4,
         .4, .4, .4, .6, .8, .8, 1.0, 1.4, 2.0, 3.0, 1.4, .8, .6, .4, .2, 0]
p_p29 = [1.1, .4, .2, .2, .2, .2, .2, .2, .2, .2, .2, .2, .2, .2, .2, .2, .2,
         .2, .2, .2, .2, .2, 0, 0, 0, 0, 0, .2, .3, .4, .6, .8, 1.0,
         1.2, 1.0, .8, .6, .4, .4, .4, .4, .4, .4, .6, .8, 1.0, .8, .6, .4,
         .4, .4, .6, .8, .6, .6, .6, .8, 1.0, 1.4, 1.2, .8, .8, 1.0, .6, 0]
p_p30 = [1.2, .5, .3, .2, .2, .2, .2, .2, .2, .2, .2, .2, .2, .2, .2, .2, .2,
         .2, .2, .2, .2, .2, 0, 0, 0, 0, 0, .2, .4, .6, .8, 1.0, 1.2,
         1.4, 1.0, .8, .6, .4, .4, .4, .4, .4, .4, .6, .8, 1.0, .8, .6, .4,
         .4, .6, .8, 1.4, 2.0, 2.4, 2.6, 2.6, 2.4, 2.6, 2.8, 2.6, 2.6, 2.8, 2.9, .4]

# --- pourcentage de neige ---
snow_hours_a = np.arange(6, 151, 6)
snow_pct_a = [52, 32, 13, 10, 16, 39, 42, 39, 65, 68, 84, 68, 74, 84, 81, 29, 39, 39, 32, 32, 13, 10, 19, 13, 6]
snow_bar_a = [14, 14, 14, 14, 14, 14, 14, 14, 14, 14, 22, 18, 18, 22, 22, 10, 10, 10, 10, 10, 10, 10, 10, 10, 10]
snow_hours_b = np.arange(198, 379, 6)
snow_pct_b = [10, 13, 6, 10, 16, 16, 13, 13, 10, 13, 19, 23, 23, 29, 29, 23, 23, 23, 19, 16,
              13, 13, 10, 10, 10, 10, 13, 6, 6, 13, 16]
snow_bar_b = [6] * 31

temps = [t_p01, t_p02, t_p03, t_p04, t_p05, t_p06, t_p07, t_p08, t_p09, t_p10,
         t_p11, t_p12, t_p13, t_p14, t_p15, t_p16, t_p17, t_p18, t_p19, t_p20,
         t_p21, t_p22, t_p23, t_p24, t_p25, t_p26, t_p27, t_p28, t_p29, t_p30]
precs = [p_p01, p_p02, p_p03, p_p04, p_p05, p_p06, p_p07, p_p08, p_p09, p_p10,
         p_p11, p_p12, p_p13, p_p14, p_p15, p_p16, p_p17, p_p18, p_p19, p_p20,
         p_p21, p_p22, p_p23, p_p24, p_p25, p_p26, p_p27, p_p28, p_p29, p_p30]

W, H = 740, 700
PZ = -30  # zéro des précipitations sur l'axe commun
mono = 'DejaVu Sans Mono'

fig = plt.figure(figsize=(W / 100, H / 100), dpi=100)
ax = fig.add_axes([50 / W, 100 / H, 640 / W, 600 / H])
ax.set_xlim(0, 384)
ax.set_ylim(45 - 580 / 7, 45 + 20 / 7)

for v in left_ticks:
    if v != 0:
        ax.axhline(v, color='#c0c0c0', lw=1, zorder=0)
for h in day_hours:
    ax.axvline(h, color='#c0c0c0', lw=1, zorder=0)
ax.axhline(0.05, color='black', lw=1.5, zorder=8)
ax.axhline(-0.45, color='black', lw=0.8, zorder=8)

for i in range(30):
    ax.plot(hours, temps[i], color=pert_colors[i], lw=0.8, marker='+', ms=3, mew=0.6, zorder=3)
    ax.plot(hours, np.array(precs[i]) + PZ, color=pert_colors[i], lw=0.8, marker='+', ms=3,
            mew=0.6, zorder=3)
ax.plot(hours, ctrl_t, color='#0000ff', lw=2.3, zorder=5)
ax.plot(hours, gfs_t, color='black', lw=2.3, zorder=5)
ax.plot(hours, mean_t, color='#ff0000', lw=3.2, zorder=6)
ax.plot(hours, np.array(ctrl_p) + PZ, color='#0000ff', lw=2.0, zorder=5)
ax.plot(hours, np.array(gfs_p) + PZ, color='black', lw=2.0, zorder=5)
ax.plot(hours, np.array(mean_p) + PZ, color='#ff0000', lw=3.4, zorder=6)

# bande neige
base = (335 - 583) / 7
for sh, sp, sb in [(snow_hours_a, snow_pct_a, snow_bar_a), (snow_hours_b, snow_pct_b, snow_bar_b)]:
    ax.bar(sh, np.array(sb) / 7, bottom=base, width=6, color='#ccfafa', zorder=1)
    for h, p in zip(sh, sp):
        ax.text(h, base + 0.1, f'{p}%', rotation=90, ha='center', va='bottom',
                fontsize=6, family=mono, color='#0000ff', zorder=4)
    ax.scatter(sh, [base - 0.75] * len(sh), s=48, color='#72cdef', zorder=4, linewidths=0)
    ax.scatter(sh, [base - 0.75] * len(sh), s=14, marker='x', color='#2a9ad6', zorder=5, linewidths=0.6)
    ax.scatter(sh, [base - 0.75] * len(sh), s=16, marker='+', color='white', zorder=5, linewidths=0.6)

for s in ['left', 'right', 'bottom']:
    ax.spines[s].set_color('black')
    ax.spines[s].set_linewidth(1.3)
ax.spines['top'].set_visible(False)
ax.set_xticks([])
ax.set_yticks([])

ytr = ax.get_yaxis_transform()
for lv, rv in zip(left_ticks, right_ticks):
    ax.text(-30 / 640, lv, str(lv), transform=ytr, ha='left', va='center', fontsize=7, clip_on=False)
    ax.text(658 / 640, lv, str(rv), transform=ytr, ha='left', va='center', fontsize=7, clip_on=False)
xtr = ax.get_xaxis_transform()
for h, lab in zip(day_hours, day_labels):
    ax.text(h, -2 / 600, lab, transform=xtr, rotation=90, ha='left', va='top', fontsize=7,
            clip_on=False)

ax.text(6, 8.9, 'Températures 2m', family=mono, fontsize=7, va='center')
ax.text(6, -25.6, 'Précipitations', family=mono, fontsize=7, va='center')


def ftext(px, py, s, **kw):
    fig.text(px / W, 1 - py / H, s, va='center', **kw)


def fline(x0, x1, py, color):
    fig.add_artist(Line2D([x0 / W, x1 / W], [1 - py / H] * 2, color=color, lw=3.2,
                          transform=fig.transFigure))


ftext(20, 607, '(°C)', family=mono, fontsize=7)
ftext(709, 607, '(mm)', family=mono, fontsize=7)

fline(225, 255, 637, '#0000ff')
fline(225, 255, 647, 'black')
fline(35, 65, 647, '#ff0000')
ftext(265, 637, 'Run de contrôle', family=mono, fontsize=7.2)
ftext(265, 647, 'Run GFS', family=mono, fontsize=7.2)
ftext(75, 647, 'Moyenne des scénarios', family=mono, fontsize=7.2)
ftext(179, 660, 'Altitude du modele : 54m', family=mono, fontsize=7.2)
ftext(340, 652, '30 Perts.', family=mono, fontsize=7.2)
for i, c in enumerate(pert_colors):
    x0 = 400 + 11 * i
    fig.add_artist(Rectangle((x0 / W, 1 - 656 / H), 10 / W, 7 / H, color=c,
                             transform=fig.transFigure))
    ftext(x0 + 5, 643, f'{i + 1:02d}', family=mono, fontsize=5.2, fontweight='bold', ha='center')

fig.add_artist(Rectangle((20 / W, 1 - 699 / H), 421 / W, 32 / H, fill=False, edgecolor='black',
                         lw=1, transform=fig.transFigure))
ftext(30, 677, 'Diagramme des ensembles GEFS sur 384h pour Istanbul', family=mono,
      fontsize=8.4, fontweight='bold')
ftext(30, 692, 'Température 2m (°C) , précipitations (mm)', family=mono, fontsize=7.2)
ftext(450, 672, 'Ensemble GEFS du 07/02/2025 - 12Z', family=mono, fontsize=7.2)
ftext(450, 692, 'Copyright 2025 Meteociel.fr', family=mono, fontsize=8.4, fontweight='bold')

fig.savefig('out.png', dpi=100)
